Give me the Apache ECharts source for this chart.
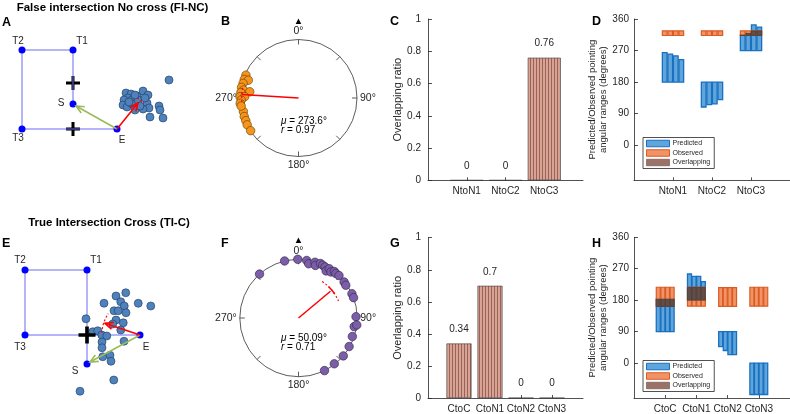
<!DOCTYPE html>
<html>
<head>
<meta charset="utf-8">
<script src="https://cdn.jsdelivr.net/npm/echarts@6.0.0/dist/echarts.min.js"></script>
<style>
html,body{margin:0;padding:0;background:#ffffff;}
#chart{width:790px;height:414px;}
</style>
</head>
<body>
<div id="chart"></div>
<script>
// ================= DATA =================
// Panel A — False intersection, no cross (layout in floor units)
const nodeNamesA = ['S', 'T1', 'T2', 'T3', 'E'];
const nodeXA = [2.04, 2.04, 0, 0, 3.8];
const nodeYA = [1.0, 3.16, 3.16, 0, 0];
const crossXA = [2.04, 2.04];
const crossYA = [1.84, 0];
const sampleXA = [4.16,4.36,4.24,4.40,4.60,4.84,5.04,4.08,4.04,4.20,4.40,4.64,5.00,5.08,4.84,5.48,5.52,5.12,5.64,4.52,5.88,4.52,4.72,4.28,4.92];
const sampleYA = [1.44,1.40,1.24,1.16,1.32,1.52,1.36,1.16,0.96,0.88,1.00,1.16,1.04,0.84,0.80,0.92,0.76,0.48,0.44,0.76,1.96,1.36,0.92,1.08,1.24];
const observedArrowA = [3.8, 0, 4.64, 1.04];
const expectedArrowA = [3.8, 0, 2.16, 0.92];
const ciArcA = [3.8, 0, 1.48, 44, 57];

// Panel E — True intersection, cross
const nodeNamesE = ['S', 'T1', 'T2', 'T3', 'E'];
const nodeXE = [2.48, 2.48, 0, 0, 4.6];
const nodeYE = [-1.16, 2.6, 2.6, 0, 0];
const crossXE = [2.48];
const crossYE = [0];
const sampleXE = [4.03,3.64,3.83,3.97,3.16,4.53,5.03,3.56,3.73,4.04,2.44,3.64,3.93,3.51,3.83,2.71,2.91,3.07,3.27,3.96,3.08,3.08,3.11,3.40,3.44,3.55,2.20];
const sampleYE = [1.69,1.56,1.33,1.16,1.27,1.27,1.16,0.97,0.97,0.89,0.65,0.60,0.49,0.44,0.20,0.13,0.17,0,-0.04,-0.25,-0.28,-0.51,-0.87,-0.81,-1.05,-1.80,-2.25];
const observedArrowE = [4.6, 0, 3.2, 0.47];
const expectedArrowE = [4.6, 0, 2.6, -1.08];
const ciArcE = [4.6, 0, 1.53, 146, 177];

// Panel B — circular distribution (compass degrees, radius fraction)
const anglesB = [293.5,288.9,289.5,284.8,280.6,278.2,277.3,275.4,271.3,271.4,268.0,264.9,256.2,251.1,246.8,242.4,235.7,262.0];
const radiiB  = [0.98,0.98,0.91,0.98,0.99,0.95,0.84,0.99,1.0,0.92,0.98,1.0,0.97,0.98,0.98,0.99,0.99,0.99];
const meanB = 273.6, rB = 0.97;
const ciB = [266, 281], ciRadiusB = 0.97;

// Panel F
const anglesF = [346.3,359.3,8.1,10.7,16.5,17.8,21.9,24.6,27.5,30.4,32.0,35.2,37.6,40.1,43.6,51.7,55.3,318.4,65.5,69.7,88.7,98.8,96.8,109.0,119.4,130.2,142.0,153.7];
const radiiF  = [1.0,1.0,0.99,0.94,0.99,0.94,1.0,0.99,0.98,0.93,0.99,0.96,1.0,0.99,1.0,0.99,0.98,1.0,1.0,1.0,0.98,0.96,1.0,0.97,0.99,1.0,0.99,1.0];
const meanF = 50.09, rF = 0.71;
const ciF = [33, 67], ciRadiusF = 0.74;

// Panels C and G — overlapping ratio
const catsC = ['NtoN1', 'NtoC2', 'NtoC3'];
const ratioC = [0, 0, 0.76];
const catsG = ['CtoC', 'CtoN1', 'CtoN2', 'CtoN3'];
const ratioG = [0.34, 0.7, 0, 0];

// Panels D and H — angular ranges (degrees), 4 sub-ranges per category
const catsD = ['NtoN1', 'NtoC2', 'NtoC3'];
const predLowD  = [[180,180,180,180],[109,116,118,130],[270,270,270,270]];
const predHighD = [[264,260,255,244],[180,180,180,180],[314,319,343,337]];
const obsLowD   = [[313,313,313,313],[313,313,313,313],[313,313,313,313]];
const obsHighD  = [[326,326,326,326],[326,326,326,326],[326,326,326,326]];
const ovLowD    = [[null,null,null,null],[null,null,null,null],[313,313,313,313]];
const ovHighD   = [[null,null,null,null],[null,null,null,null],[314,319,326,326]];

const catsH = ['CtoC', 'CtoN1', 'CtoN2', 'CtoN3'];
const predLowH  = [[90,90,90,90],[180,180,180,180],[47,36,24,24],[-90,-90,-90,-90]];
const predHighH = [[183,183,183,183],[255,248,248,233],[90,90,90,90],[0,0,0,0]];
const obsLowH   = [[162,162,162,162],[163,163,163,163],[162,162,162,162],[163,163,163,163]];
const obsHighH  = [[217,217,217,217],[217,217,217,217],[216,216,216,216],[217,217,217,217]];
const ovLowH    = [[162,162,162,162],[180,180,180,180],[null,null,null,null],[null,null,null,null]];
const ovHighH   = [[183,183,183,183],[217,217,217,217],[null,null,null,null],[null,null,null,null]];

const angleTicks = [0, 90, 180, 270, 360];

// ================= STYLE HELPERS =================
const FONT = '"Liberation Sans", Arial, Helvetica, sans-serif';
const AX = '#262626';
function stripes(c1, c2, w1, w2) {
  const cv = document.createElement('canvas');
  cv.width = w1 + w2; cv.height = 4;
  const g = cv.getContext('2d');
  g.fillStyle = c1; g.fillRect(0, 0, w1, 4);
  g.fillStyle = c2; g.fillRect(w1, 0, w2, 4);
  return { image: cv, repeat: 'repeat' };
}
const hatchBar = stripes('#d9a293', '#96645a', 2, 1);
const hatchLegend = stripes('#b08276', '#86625a', 1, 1);

const PRED = { fill: '#5ea5dc', stroke: '#1a70c0' };
const OBS = { fill: '#f09468', stroke: '#dc5a20' };
const OVL = { fill: '#5f4e4a', stroke: '#4a3c39' };

function hiddenX(g, min, max) { return { gridIndex: g, type: 'value', min, max, show: false, splitLine: { show: false } }; }
function hiddenY(g, min, max) { return { gridIndex: g, type: 'value', min, max, show: false, splitLine: { show: false } }; }

function arrowRender(color) {
  return function (params, api) {
    const p1 = api.coord([api.value(0), api.value(1)]);
    const p2 = api.coord([api.value(2), api.value(3)]);
    const a = Math.atan2(p2[1] - p1[1], p2[0] - p1[0]);
    const L = 8, W = 3.6;
    const bx = p2[0] - L * Math.cos(a), by = p2[1] - L * Math.sin(a);
    const h1 = [bx + W * Math.sin(a), by - W * Math.cos(a)];
    const h2 = [bx - W * Math.sin(a), by + W * Math.cos(a)];
    return { type: 'group', children: [
      { type: 'line', shape: { x1: p1[0], y1: p1[1], x2: p2[0], y2: p2[1] }, style: { stroke: color, lineWidth: 1.6 } },
      { type: 'polyline', shape: { points: [h1, p2, h2] }, style: { stroke: color, lineWidth: 1.6, fill: null } }
    ] };
  };
}
function cartArcRender(params, api) {
  const c = api.coord([api.value(0), api.value(1)]);
  const r = api.size([api.value(2), 0])[0];
  const a1 = api.value(3) * Math.PI / 180, a2 = api.value(4) * Math.PI / 180;
  return { type: 'arc', shape: { cx: c[0], cy: c[1], r: r, startAngle: -a2, endAngle: -a1, clockwise: true },
    style: { stroke: '#ff0000', fill: null, lineWidth: 1.2, lineDash: [2, 2] } };
}
function polarArcRender(dash, width) {
  return function (params, api) {
    const c = api.coord([0, 0]);
    const p = api.coord([api.value(0), api.value(1)]);
    const r = Math.hypot(p[0] - c[0], p[1] - c[1]);
    const a1 = (api.value(1) - 90) * Math.PI / 180, a2 = (api.value(2) - 90) * Math.PI / 180;
    return { type: 'arc', shape: { cx: c[0], cy: c[1], r: r, startAngle: a1, endAngle: a2, clockwise: true },
      style: { stroke: '#ff0000', fill: null, lineWidth: width, lineDash: dash } };
  };
}
function rangeRender(nSub, slot, bw, sty, lw) {
  return function (params, api) {
    const cat = api.value(0), sub = api.value(1), lo = api.value(2), hi = api.value(3);
    const xc = cat + (sub - (nSub - 1) / 2) * slot;
    const p1 = api.coord([xc - bw / 2, hi]);
    const p2 = api.coord([xc + bw / 2, lo]);
    return { type: 'rect', shape: { x: p1[0], y: p1[1], width: p2[0] - p1[0], height: p2[1] - p1[1] },
      style: { fill: sty.fill, stroke: sty.stroke, lineWidth: lw } };
  };
}
function rangeData(low, high) {
  const out = [];
  low.forEach((row, i) => row.forEach((v, j) => {
    if (v !== null && high[i][j] !== null) out.push([i + 1, j, v, high[i][j]]);
  }));
  return out;
}

function nodeSeries(g, names, xs, ys, offs) {
  return { type: 'scatter', xAxisIndex: g, yAxisIndex: g, symbolSize: 7, z: 4,
    itemStyle: { color: '#0000ff', opacity: 1 },
    data: names.map((n, i) => ({ name: n, value: [xs[i], ys[i]],
      label: { show: true, position: 'inside', offset: offs[n], formatter: n, color: AX, fontSize: 10 } })) };
}
const CROSS = 'path://M-1.5,-7L1.5,-7L1.5,-1.5L7,-1.5L7,1.5L1.5,1.5L1.5,7L-1.5,7L-1.5,1.5L-7,1.5L-7,-1.5L-1.5,-1.5Z';

function barXAxis(g, cats) {
  const vals = cats.map((c, i) => i + 1);
  return { gridIndex: g, type: 'value', min: 0, max: cats.length + 1,
    axisLine: { show: true, onZero: false, lineStyle: { color: AX, width: 0.8 } },
    axisTick: { show: true, inside: true, length: 3, customValues: vals, lineStyle: { color: AX, width: 0.8 } },
    axisLabel: { show: true, customValues: vals, formatter: v => cats[Math.round(v) - 1] || '', color: AX, fontSize: 10, margin: 6 },
    splitLine: { show: false } };
}
function ratioYAxis(g) {
  return { gridIndex: g, type: 'value', min: 0, max: 1, interval: 0.2,
    axisLine: { show: true, lineStyle: { color: AX, width: 0.8 } },
    axisTick: { show: true, inside: true, length: 4, lineStyle: { color: AX, width: 0.8 } },
    axisLabel: { color: AX, fontSize: 10, margin: 7 },
    splitLine: { show: false },
    name: 'Overlapping ratio', nameLocation: 'middle', nameGap: 24,
    nameTextStyle: { color: AX, fontSize: 11 } };
}
function angleYAxis(g) {
  return { gridIndex: g, type: 'value', min: -100, max: 360,
    axisLine: { show: true, lineStyle: { color: AX, width: 0.8 } },
    axisTick: { show: true, inside: true, length: 4, customValues: angleTicks, lineStyle: { color: AX, width: 0.8 } },
    axisLabel: { show: true, customValues: angleTicks, color: AX, fontSize: 10, margin: 5 },
    splitLine: { show: false },
    name: 'Predicted/Observed pointing\nangular ranges (degrees)', nameLocation: 'middle', nameGap: 25,
    nameTextStyle: { color: AX, fontSize: 9.5, lineHeight: 11 } };
}
function barSeries(g, vals, bw) {
  return { type: 'bar', xAxisIndex: g, yAxisIndex: g, barWidth: bw,
    data: vals.map((v, i) => [i + 1, v]),
    itemStyle: { color: hatchBar, borderColor: '#3c3c3c', borderWidth: 0.6 },
    label: { show: true, position: 'top', distance: 9, fontSize: 10, color: AX, formatter: p => String(p.value[1]) } };
}
function rangeSeries(g, name, data, nSub, slot, bw, sty, lw) {
  return { type: 'custom', name: name, xAxisIndex: g, yAxisIndex: g, data: data,
    encode: { x: 0, y: [2, 3] }, renderItem: rangeRender(nSub, slot, bw, sty, lw),
    itemStyle: { color: sty.fill, borderColor: sty.stroke }, silent: true };
}
function angleAxisCfg(p) {
  return { polarIndex: p, type: 'value', min: 0, max: 360, interval: 45, startAngle: 90, clockwise: true,
    axisLine: { show: true, lineStyle: { color: '#333', width: 0.8 } },
    axisTick: { show: true, inside: true, length: 5, lineStyle: { color: '#333', width: 0.8 } },
    axisLabel: { show: true,
      formatter: v => v === 0 ? '{t|▲}\n0°' : ((v % 90 === 0 && v < 360) ? v + '°' : ''),
      rich: { t: { fontSize: 9.5, lineHeight: 9, color: '#000' } },
      color: AX, fontSize: 10.5, lineHeight: 11, margin: 3 },
    splitLine: { show: false } };
}
function legendCfg(left, top) {
  return { show: true, orient: 'vertical', left: left, top: top, icon: 'rect',
    itemWidth: 23, itemHeight: 6.5, itemGap: 1.5, padding: [2, 4, 2, 3],
    borderColor: AX, borderWidth: 0.8, backgroundColor: '#fff', selectedMode: false,
    textStyle: { fontSize: 7, color: AX, lineHeight: 8, padding: [0, 0, 0, -2] },
    data: [
      { name: 'Predicted', itemStyle: { color: PRED.fill, borderColor: PRED.stroke, borderWidth: 1 } },
      { name: 'Observed', itemStyle: { color: OBS.fill, borderColor: OBS.stroke, borderWidth: 1 } },
      { name: 'Overlapping', itemStyle: { color: hatchLegend, borderColor: '#6b4c45', borderWidth: 0.6 } }
    ] };
}

// ================= OPTION =================
const series = [];
const dotStyle = { color: '#4f81bd', borderColor: '#1d3a5c', borderWidth: 0.6, opacity: 1 };
// ---- Panel A (grid 0)
series.push({ type: 'line', xAxisIndex: 0, yAxisIndex: 0, symbol: 'none', silent: true,
  lineStyle: { color: '#6a6af2', width: 1 }, data: nodeXA.map((x, i) => [x, nodeYA[i]]) });
series.push({ type: 'scatter', xAxisIndex: 0, yAxisIndex: 0, symbol: CROSS, symbolSize: 14, itemStyle: { color: '#000', opacity: 1 },
  data: crossXA.map((x, i) => [x, crossYA[i]]) });
series.push(nodeSeries(0, nodeNamesA, nodeXA, nodeYA, { S: [-12, -1], T1: [9, -9], T2: [-4, -9], T3: [-4, 9], E: [5, 11] }));
series.push({ type: 'scatter', xAxisIndex: 0, yAxisIndex: 0, symbolSize: 8, z: 3, itemStyle: dotStyle,
  data: sampleXA.map((x, i) => [x, sampleYA[i]]) });
series.push({ type: 'custom', xAxisIndex: 0, yAxisIndex: 0, renderItem: arrowRender('#9bbb59'), data: [expectedArrowA], encode: { x: [0, 2], y: [1, 3] }, z: 5, silent: true });
series.push({ type: 'custom', xAxisIndex: 0, yAxisIndex: 0, renderItem: arrowRender('#ff0000'), data: [observedArrowA], encode: { x: [0, 2], y: [1, 3] }, z: 6, silent: true });
series.push({ type: 'custom', xAxisIndex: 0, yAxisIndex: 0, renderItem: cartArcRender, data: [ciArcA], encode: { x: 0, y: 1 }, z: 6, silent: true });

// ---- Panel E (grid 1)
series.push({ type: 'line', xAxisIndex: 1, yAxisIndex: 1, symbol: 'none', silent: true,
  lineStyle: { color: '#6a6af2', width: 1 }, data: nodeXE.map((x, i) => [x, nodeYE[i]]) });
series.push(nodeSeries(1, nodeNamesE, nodeXE, nodeYE, { S: [-12, 7], T1: [9, -10], T2: [-5, -10], T3: [-5, 12], E: [6, 12] }));
series.push({ type: 'scatter', xAxisIndex: 1, yAxisIndex: 1, symbolSize: 8, z: 3, itemStyle: dotStyle,
  data: sampleXE.map((x, i) => [x, sampleYE[i]]) });
series.push({ type: 'scatter', xAxisIndex: 1, yAxisIndex: 1, symbol: CROSS, symbolSize: 17, z: 4, itemStyle: { color: '#000', opacity: 1 },
  data: crossXE.map((x, i) => [x, crossYE[i]]) });
series.push({ type: 'custom', xAxisIndex: 1, yAxisIndex: 1, renderItem: arrowRender('#9bbb59'), data: [expectedArrowE], encode: { x: [0, 2], y: [1, 3] }, z: 5, silent: true });
series.push({ type: 'custom', xAxisIndex: 1, yAxisIndex: 1, renderItem: arrowRender('#ff0000'), data: [observedArrowE], encode: { x: [0, 2], y: [1, 3] }, z: 6, silent: true });
series.push({ type: 'custom', xAxisIndex: 1, yAxisIndex: 1, renderItem: cartArcRender, data: [ciArcE], encode: { x: 0, y: 1 }, z: 6, silent: true });

// ---- Panel B (polar 0)
series.push({ type: 'scatter', coordinateSystem: 'polar', polarIndex: 0, symbolSize: 8.5,
  itemStyle: { color: '#f7941d', borderColor: '#5a3a00', borderWidth: 0.6, opacity: 1 },
  data: anglesB.map((a, i) => [radiiB[i], a]) });
series.push({ type: 'line', coordinateSystem: 'polar', polarIndex: 0, symbol: 'none', z: 5,
  lineStyle: { color: '#ff0000', width: 1.5 }, data: [[0, meanB], [rB, meanB]] });
series.push({ type: 'custom', coordinateSystem: 'polar', polarIndex: 0, renderItem: polarArcRender([2, 2], 1.2),
  data: [[ciRadiusB, ciB[0], ciB[1]]], z: 6, silent: true });

// ---- Panel F (polar 1)
series.push({ type: 'scatter', coordinateSystem: 'polar', polarIndex: 1, symbolSize: 8.5,
  itemStyle: { color: '#7b5ea7', borderColor: '#2e2147', borderWidth: 0.6, opacity: 1 },
  data: anglesF.map((a, i) => [radiiF[i], a]) });
series.push({ type: 'line', coordinateSystem: 'polar', polarIndex: 1, symbol: 'none', z: 5,
  lineStyle: { color: '#ff0000', width: 1.5 }, data: [[0, meanF], [rF, meanF]] });
series.push({ type: 'custom', coordinateSystem: 'polar', polarIndex: 1, renderItem: polarArcRender([2, 2], 1.2),
  data: [[ciRadiusF, ciF[0], ciF[1]]], z: 6, silent: true });
series.push({ type: 'custom', coordinateSystem: 'polar', polarIndex: 1, renderItem: polarArcRender(null, 1.5),
  data: [[ciRadiusF, meanF - 6, meanF + 6]], z: 6, silent: true });

// ---- Panels C, G bars
series.push(barSeries(2, ratioC, 33));
series.push(barSeries(3, ratioG, 25));

// ---- Panel D (grid 4) and H (grid 5)
series.push(rangeSeries(4, 'Predicted', rangeData(predLowD, predHighD), 4, 0.142, 0.12, PRED, 1.3));
series.push(rangeSeries(4, 'Observed', rangeData(obsLowD, obsHighD), 4, 0.142, 0.12, OBS, 1.2));
series.push(rangeSeries(4, 'Overlapping', rangeData(ovLowD, ovHighD), 4, 0.142, 0.12, OVL, 0.8));
series.push(rangeSeries(5, 'Predicted', rangeData(predLowH, predHighH), 4, 0.148, 0.128, PRED, 1.3));
series.push(rangeSeries(5, 'Observed', rangeData(obsLowH, obsHighH), 4, 0.148, 0.128, OBS, 1.2));
series.push(rangeSeries(5, 'Overlapping', rangeData(ovLowH, ovHighH), 4, 0.148, 0.128, OVL, 0.8));

function txt(x, y, text, size, bold, align) {
  return { type: 'text', x: x, y: y, silent: true,
    style: { text: text, fontSize: size, fontWeight: bold ? 'bold' : 'normal', fill: '#000', fontFamily: FONT,
      align: align || 'left', verticalAlign: 'middle' } };
}
function statTxt(x, y, sym, val) {
  return { type: 'text', x: x, y: y, silent: true,
    style: { text: '{i|' + sym + '} = ' + val, fontSize: 10, fill: '#000', fontFamily: FONT, verticalAlign: 'middle',
      rich: { i: { fontStyle: 'italic', fontSize: 10, fontFamily: FONT } } } };
}

const option = {
  animation: false,
  backgroundColor: '#ffffff',
  textStyle: { fontFamily: FONT },
  grid: [
    { left: 2, top: 29, width: 200, height: 137.5 },
    { left: 0, top: 235, width: 200, height: 175 },
    { left: 428, top: 19, width: 155, height: 161.3 },
    { left: 428, top: 237.7, width: 155, height: 160.6 },
    { left: 634, top: 19, width: 156, height: 161.3 },
    { left: 634, top: 237.3, width: 156, height: 161.3 }
  ],
  xAxis: [hiddenX(0, -0.8, 7.2), hiddenX(1, -1, 7), barXAxis(2, catsC), barXAxis(3, catsG), barXAxis(4, catsD), barXAxis(5, catsH)],
  yAxis: [hiddenY(0, -1.5, 4), hiddenY(1, -3, 4), ratioYAxis(2), ratioYAxis(3), angleYAxis(4), angleYAxis(5)],
  polar: [{ center: [298.5, 98], radius: 58.5 }, { center: [298.5, 318], radius: 58.7 }],
  angleAxis: [angleAxisCfg(0), angleAxisCfg(1)],
  radiusAxis: [
    { polarIndex: 0, type: 'value', min: 0, max: 1, show: false, splitLine: { show: false } },
    { polarIndex: 1, type: 'value', min: 0, max: 1, show: false, splitLine: { show: false } }
  ],
  legend: [legendCfg(643, 137.5), legendCfg(643, 360.5)],
  graphic: [
    txt(112.5, 8, 'False intersection No cross (FI-NC)', 11.5, true, 'center'),
    txt(109, 223, 'True Intersection Cross (TI-C)', 11.5, true, 'center'),
    txt(2, 22.5, 'A', 12.5, true), txt(221, 21.5, 'B', 12.5, true), txt(390, 21.5, 'C', 12.5, true), txt(592, 21.5, 'D', 12.5, true),
    txt(2, 243.3, 'E', 12.5, true), txt(221, 243.3, 'F', 12.5, true), txt(390, 243.3, 'G', 12.5, true), txt(592, 243.3, 'H', 12.5, true),
    statTxt(281, 121.5, 'μ', meanB + '°'), statTxt(281, 130, 'r', String(rB)),
    statTxt(281, 338.5, 'μ', meanF + '°'), statTxt(281, 347, 'r', String(rF))
  ],
  series: series
};

const chart = echarts.init(document.getElementById('chart'), null, { renderer: 'canvas', width: 790, height: 414 });
chart.setOption(option);
</script>
</body>
</html>
